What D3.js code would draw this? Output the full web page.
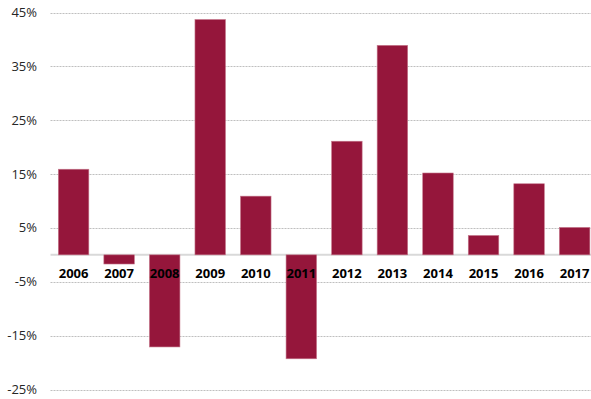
<!DOCTYPE html>
<html lang="en">
<head>
  <meta charset="UTF-8">
  <title>Annual returns 2006-2017</title>
  <script src="https://d3js.org/d3.v7.min.js"></script>
  <style>
    body { margin: 0; background: #fff; }
    svg { display: block; font-family: "Open Sans", "Liberation Sans", sans-serif; }
    .tick-label { font-size: 13px; fill: #262626; }
    .year-label { font-size: 13px; font-weight: bold; fill: #000; }
  </style>
</head>
<body>
  <script>
    // data
    const years = ["2006", "2007", "2008", "2009", "2010", "2011", "2012", "2013", "2014", "2015", "2016", "2017"];
    const returns = [15.9, -1.7, -17.1, 43.7, 10.9, -19.3, 21.1, 38.9, 15.2, 3.6, 13.2, 5.1];
    const yTicks = [45, 35, 25, 15, 5, -5, -15, -25];

    const width = 591, height = 399;

    const svg = d3.select("body")
                  .append("svg")
                  .attr("width", width)
                  .attr("height", height);

    // scales
    const x = d3.scaleBand()
                .domain(years)
                .range([50.8, 597.4])
                .paddingInner(0.33)
                .paddingOuter(0.165);

    const y = d3.scaleLinear()
                .domain([-25, 45])
                .range([389.5, 12.5]);

    // dashed gridlines
    svg.append("g")
       .selectAll("line")
       .data(yTicks)
       .enter()
       .append("line")
       .attr("x1", 50.5)
       .attr("x2", width)
       .attr("y1", d => Math.round(y(d)) + 0.5)
       .attr("y2", d => Math.round(y(d)) + 0.5)
       .attr("stroke", "#bfbfbf")
       .attr("stroke-width", 1)
       .attr("stroke-dasharray", "2,1");

    // y labels
    svg.append("g")
       .selectAll("text")
       .data(yTicks)
       .enter()
       .append("text")
       .attr("class", "tick-label")
       .attr("x", 37)
       .attr("y", d => y(d))
       .attr("dy", "0.35em")
       .attr("text-anchor", "end")
       .text(d => d + "%");

    // zero line
    svg.append("line")
       .attr("x1", 50.5)
       .attr("x2", width)
       .attr("y1", y(0))
       .attr("y2", y(0))
       .attr("stroke", "#d9d9d9")
       .attr("stroke-width", 2);

    // bars
    svg.append("g")
       .selectAll("rect")
       .data(returns)
       .enter()
       .append("rect")
       .attr("x", (d, i) => x(years[i]))
       .attr("width", x.bandwidth())
       .attr("y", d => y(Math.max(0, d)))
       .attr("height", d => Math.abs(y(d) - y(0)))
       .attr("fill", "#95163b")
       .attr("stroke", "#c5788c")
       .attr("stroke-width", 0.6);

    // year labels
    svg.append("g")
       .selectAll("text")
       .data(years)
       .enter()
       .append("text")
       .attr("class", "year-label")
       .attr("x", d => x(d) + x.bandwidth() / 2)
       .attr("y", 278)
       .attr("text-anchor", "middle")
       .text(d => d);
  </script>
</body>
</html>
